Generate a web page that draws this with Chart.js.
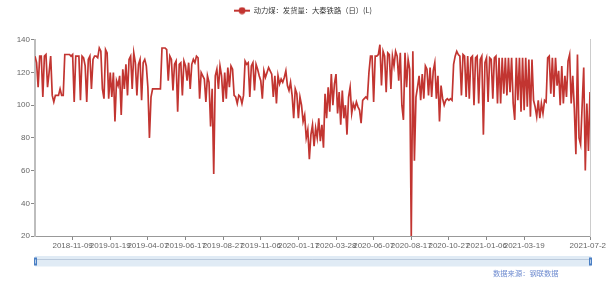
<!DOCTYPE html>
<html>
<head>
<meta charset="utf-8">
<script src="https://cdn.jsdelivr.net/npm/chart.js@4.4.0/dist/chart.umd.min.js"></script>
<style>
  body { margin: 0; background: #fff; }
  canvas { display: block; }
</style>
</head>
<body>
<canvas id="chartCanvas" width="606" height="288"></canvas>
<script>
// daily shipments, one value per ~3 days
const values = [
  130,126,111,130,130,105,130,131,111,120,130,106,102,106,106,106,110,106,106,131,131,131,131,130,
  131,102,130,130,130,103,130,129,124,102,128,130,110,128,130,130,129,135,133,110,104,134,132,104,
  120,105,120,90,115,112,118,94,122,110,125,106,128,130,110,132,126,106,125,128,103,126,128,124,
  111,80,105,110,110,110,110,110,110,135,135,135,134,115,130,128,109,125,127,96,125,126,106,127,
  124,115,126,110,125,128,126,130,129,104,120,118,116,102,118,114,87,110,58,118,122,110,124,118,
  102,120,104,123,111,124,122,106,105,101,106,105,101,106,127,125,126,105,124,126,109,125,122,118,
  115,104,121,117,120,123,121,119,105,118,101,118,113,116,114,117,121,112,109,114,106,92,110,107,
  92,105,100,90,94,80,85,67,82,88,75,86,80,92,78,88,74,107,92,111,96,119,100,113,
  119,95,108,88,109,92,100,82,105,111,95,101,98,102,99,97,89,103,104,105,104,120,130,130,
  102,130,130,131,137,112,133,130,108,132,131,110,130,124,133,130,115,132,100,91,132,111,128,122,
  20,133,66,105,111,118,103,119,104,124,122,106,123,105,121,126,104,118,90,112,104,100,103,104,
  103,104,103,125,130,133,131,130,106,131,130,105,130,104,129,130,100,129,130,101,128,130,82,126,
  129,102,129,128,104,129,130,101,129,101,129,107,129,106,129,108,129,101,91,129,103,129,96,129,
  97,129,99,128,93,128,103,99,93,103,92,101,95,103,102,129,130,107,129,105,129,112,121,100,124,101,
  118,105,127,131,101,118,98,70,131,80,76,100,123,60,101,72,108
];
const tickIdx = [24, 48, 72, 96, 120, 144, 168, 192, 216, 240, 264, 288, 312, 354];
const tickLabels = ['2018-11-09','2019-01-19','2019-04-07','2019-06-17','2019-08-27','2019-11-06',
  '2020-01-17','2020-03-28','2020-06-07','2020-08-17','2020-10-27','2021-01-06','2021-03-19','2021-07-21'];
const seriesName = '动力煤：发货量：大秦铁路（日）(L)';
const sourceText = '数据来源：钢联数据';
const red = '#c23531';

// legend icon: line with a dot in the middle
const icon = document.createElement('canvas');
icon.width = 16; icon.height = 8;
const ic = icon.getContext('2d');
ic.strokeStyle = red; ic.lineWidth = 2;
ic.beginPath(); ic.moveTo(0, 4); ic.lineTo(16, 4); ic.stroke();
ic.fillStyle = red;
ic.beginPath(); ic.arc(8, 4, 3.4, 0, Math.PI * 2); ic.fill();

// push the plot down below the legend without moving the legend itself
const legendGap = {
  id: 'legendGap',
  beforeInit(chart) {
    const fit = chart.legend.fit;
    chart.legend.fit = function () {
      fit.bind(chart.legend)();
      this.height += 15.5;
    };
  }
};

const sliderPlugin = {
  id: 'slider',
  afterDraw(chart) {
    const ctx = chart.ctx;
    const a = chart.chartArea;
    ctx.save();
    ctx.fillStyle = 'rgba(214,228,242,0.75)';
    ctx.fillRect(a.left, 256, a.right - a.left + 1, 10.5);
    ctx.strokeStyle = 'rgba(150,170,195,0.5)';
    ctx.lineWidth = 1;
    ctx.beginPath(); ctx.moveTo(a.left, 259.5); ctx.lineTo(a.right, 259.5); ctx.stroke();
    ctx.fillStyle = '#4a7fc4';
    [a.left, a.right].forEach(x => {
      ctx.fillRect(x - 1, 257.5, 3, 8);
    });
    ctx.fillStyle = '#b8cde8';
    [a.left, a.right].forEach(x => {
      ctx.fillRect(x, 259.5, 1, 4);
    });
    ctx.font = '7.3px "Noto Sans CJK SC"';
    ctx.fillStyle = '#6f8cd0';
    ctx.textBaseline = 'middle';
    ctx.fillText(sourceText, 493, 273.5);
    ctx.restore();
  }
};

const ctx = document.getElementById('chartCanvas').getContext('2d');
window.myChart = new Chart(ctx, {
  type: 'line',
  data: {
    datasets: [{
      label: seriesName,
      data: values.map((v, i) => ({ x: i, y: v })),
      borderColor: red,
      backgroundColor: red,
      borderWidth: 1.7,
      pointRadius: 0,
      pointStyle: icon,
      tension: 0
    }]
  },
  options: {
    responsive: false,
    animation: false,
    layout: { padding: 0 },
    plugins: {
      tooltip: { enabled: false },
      legend: {
        position: 'top',
        labels: {
          usePointStyle: true,
          pointStyleWidth: 16,
          padding: 7,
          color: '#333',
          font: { family: '"Noto Sans CJK SC"', size: 7.3 }
        }
      }
    },
    scales: {
      x: {
        type: 'linear',
        min: 0,
        max: values.length - 1,
        afterBuildTicks: axis => { axis.ticks = tickIdx.map(v => ({ value: v })); },
        afterFit: axis => { axis.height = 52; axis.paddingLeft = 0; axis.paddingRight = 0; },
        ticks: {
          autoSkip: false,
          maxRotation: 0,
          minRotation: 0,
          padding: 1,
          color: '#666',
          font: { family: '"Liberation Sans"', size: 8 },
          callback: v => tickLabels[tickIdx.indexOf(v)]
        },
        grid: { drawOnChartArea: false, tickLength: 4, tickColor: '#888' },
        border: { color: '#999', width: 1 }
      },
      y: {
        min: 20,
        max: 140,
        afterFit: axis => { axis.width = 35; axis.paddingTop = 0; axis.paddingBottom = 0; },
        ticks: {
          stepSize: 20,
          padding: 1,
          color: '#666',
          font: { family: '"Liberation Sans"', size: 8 }
        },
        grid: { drawOnChartArea: false, tickLength: 4, tickColor: '#888' },
        border: { color: '#bdbdbd', width: 2 }
      },
      y1: {
        position: 'right',
        min: 20,
        max: 140,
        afterFit: axis => { axis.width = 16; },
        ticks: { display: false },
        grid: { display: false },
        border: { color: '#ccc', width: 1 }
      }
    }
  },
  plugins: [legendGap, sliderPlugin]
});
</script>
</body>
</html>
